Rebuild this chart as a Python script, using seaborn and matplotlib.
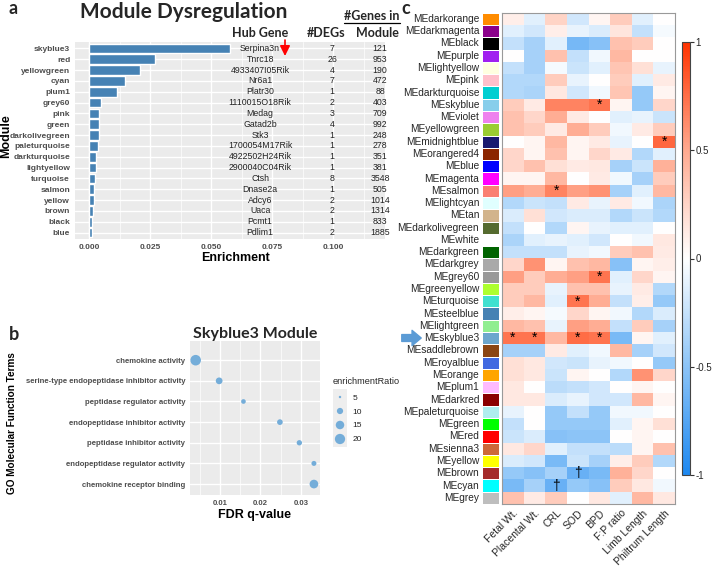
import numpy as np
import pandas as pd
import matplotlib
matplotlib.use('Agg')
import matplotlib.pyplot as plt
import seaborn as sns
from matplotlib.colors import LinearSegmentedColormap, ListedColormap
from matplotlib.lines import Line2D

# ---- Panel a: module enrichment + table ----
modules_a = ['skyblue3', 'red', 'yellowgreen', 'cyan', 'plum1', 'grey60', 'pink', 'green',
             'darkolivegreen', 'paleturquoise', 'darkturquoise', 'lightyellow', 'turquoise',
             'salmon', 'yellow', 'brown', 'black', 'blue']
enrichment = [0.0578, 0.0270, 0.0209, 0.0148, 0.0113, 0.0049, 0.0042, 0.0041, 0.0041,
              0.0036, 0.0029, 0.0027, 0.0025, 0.0020, 0.0020, 0.0016, 0.0012, 0.0011]
hub_genes = ['Serpina3n', 'Tnrc18', '4933407I05Rik', 'Nr6a1', 'Platr30', '1110015O18Rik',
             'Medag', 'Gatad2b', 'Stk3', '1700054M17Rik', '4922502H24Rik', '2900040C04Rik',
             'Ctsh', 'Dnase2a', 'Adcy6', 'Uaca', 'Pcmt1', 'Pdlim1']
n_degs = [7, 26, 4, 7, 1, 2, 3, 4, 1, 1, 1, 1, 8, 1, 2, 2, 1, 2]
n_genes = [121, 953, 190, 472, 88, 403, 709, 992, 248, 278, 351, 381, 3548, 505, 1014,
           1314, 833, 1885]

# ---- Panel b: GO terms for skyblue3 ----
go_terms = ['chemokine activity', 'serine-type endopeptidase inhibitor activity',
            'peptidase regulator activity', 'endopeptidase inhibitor activity',
            'peptidase inhibitor activity', 'endopeptidase regulator activity',
            'chemokine receptor binding']
fdr_q = [0.0040, 0.0098, 0.0158, 0.0248, 0.0296, 0.0332, 0.0332]
enrich_ratio = [21, 11, 7.4, 9, 8.4, 7.9, 15.5]
legend_ratios = [5, 10, 15, 20]

# ---- Panel c: module-trait correlations ----
me_modules = ['darkorange', 'darkmagenta', 'black', 'purple', 'lightyellow', 'pink',
              'darkturquoise', 'skyblue', 'violet', 'yellowgreen', 'midnightblue',
              'orangered4', 'blue', 'magenta', 'salmon', 'lightcyan', 'tan',
              'darkolivegreen', 'white', 'darkgreen', 'darkgrey', 'grey60', 'greenyellow',
              'turquoise', 'steelblue', 'lightgreen', 'skyblue3', 'saddlebrown',
              'royalblue', 'orange', 'plum1', 'darkred', 'paleturquoise', 'green', 'red',
              'sienna3', 'yellow', 'brown', 'cyan', 'grey']
traits = ['Fetal Wt.', 'Placental Wt.', 'CRL', 'SOD', 'BPD', 'F:P ratio', 'Limb Length',
          'Philtrum Length']
cor_values = [
    [0.10, -0.13, 0.25, -0.20, 0.06, 0.30, -0.13, 0.00],
    [-0.13, -0.20, 0.10, -0.10, -0.16, 0.15, -0.26, -0.04],
    [-0.26, -0.39, -0.13, -0.60, -0.52, 0.36, 0.30, 0.00],
    [0.00, -0.39, 0.36, -0.26, -0.06, 0.42, 0.00, 0.00],
    [-0.26, -0.39, -0.04, -0.23, -0.13, 0.34, 0.18, -0.10],
    [-0.33, -0.33, 0.30, -0.10, 0.00, 0.30, -0.13, 0.12],
    [-0.33, -0.36, 0.14, -0.20, -0.06, 0.34, -0.46, 0.06],
    [0.30, 0.12, 0.66, 0.66, 0.72, 0.06, -0.46, 0.24],
    [0.36, 0.24, 0.48, 0.12, 0.00, -0.13, -0.10, -0.23],
    [0.36, 0.30, 0.12, 0.48, 0.30, -0.06, 0.12, 0.30],
    [0.00, 0.06, 0.42, 0.06, 0.12, -0.10, 0.00, 0.78],
    [0.24, 0.06, 0.36, 0.06, 0.24, 0.12, -0.33, -0.13],
    [0.24, 0.36, 0.18, 0.12, 0.14, -0.39, -0.23, 0.46],
    [0.06, 0.06, 0.42, 0.00, 0.12, -0.06, -0.39, 0.30],
    [0.54, 0.48, 0.66, 0.54, 0.60, -0.39, -0.13, 0.42],
    [-0.33, -0.23, -0.26, 0.12, -0.10, 0.12, -0.06, -0.36],
    [-0.16, 0.18, -0.20, -0.16, -0.16, -0.33, -0.23, -0.33],
    [-0.26, 0.00, -0.33, 0.06, -0.10, -0.13, -0.13, 0.00],
    [-0.36, -0.13, -0.10, -0.13, -0.20, 0.00, -0.06, 0.14],
    [-0.26, -0.26, -0.26, -0.10, -0.06, 0.30, 0.36, 0.12],
    [0.24, 0.60, 0.06, 0.36, 0.42, -0.52, 0.06, 0.10],
    [0.54, 0.30, 0.48, 0.54, 0.72, -0.13, 0.24, 0.06],
    [0.30, 0.30, -0.10, 0.36, 0.36, -0.10, 0.12, -0.33],
    [0.30, 0.42, -0.13, 0.72, 0.48, -0.26, 0.10, -0.46],
    [0.10, 0.06, -0.04, 0.24, 0.06, -0.06, -0.33, -0.16],
    [0.42, 0.36, -0.10, 0.54, 0.48, -0.26, 0.30, -0.39],
    [0.72, 0.72, 0.42, 0.75, 0.72, -0.58, 0.06, -0.13],
    [-0.39, -0.39, 0.12, -0.13, -0.06, 0.42, -0.39, -0.20],
    [0.18, 0.14, -0.20, -0.23, -0.10, -0.06, 0.00, -0.46],
    [0.18, 0.14, -0.23, 0.06, 0.00, -0.33, 0.60, 0.24],
    [0.14, 0.00, -0.29, -0.26, -0.20, 0.00, 0.06, 0.00],
    [0.14, 0.14, -0.16, -0.10, -0.20, -0.20, 0.42, 0.06],
    [-0.10, 0.00, -0.46, -0.26, -0.46, -0.06, -0.06, 0.00],
    [-0.26, 0.00, -0.46, -0.46, -0.46, -0.13, 0.06, 0.18],
    [-0.23, -0.16, -0.52, -0.50, -0.50, 0.00, 0.06, 0.00],
    [0.14, 0.24, -0.13, -0.26, -0.26, -0.29, 0.06, 0.36],
    [-0.16, -0.20, -0.58, -0.23, -0.39, 0.10, 0.30, -0.33],
    [-0.46, -0.52, -0.39, -0.66, -0.58, 0.46, 0.24, 0.00],
    [-0.58, -0.39, -0.66, -0.46, -0.52, 0.30, 0.14, -0.06],
    [0.36, 0.12, 0.30, 0.00, 0.14, -0.13, 0.42, 0.14],
]
# (module, trait) -> significance mark
sig_marks = {('skyblue', 'BPD'): '*', ('midnightblue', 'Philtrum Length'): '*',
             ('salmon', 'CRL'): '*', ('grey60', 'BPD'): '*', ('turquoise', 'SOD'): '*',
             ('skyblue3', 'Fetal Wt.'): '*', ('skyblue3', 'Placental Wt.'): '*',
             ('skyblue3', 'SOD'): '*', ('skyblue3', 'BPD'): '*',
             ('brown', 'SOD'): '\u2020', ('cyan', 'CRL'): '\u2020'}

# R colour names used by WGCNA
module_hex = {'darkorange': '#FF8C00', 'darkmagenta': '#8B008B', 'black': '#000000',
              'purple': '#A020F0', 'lightyellow': '#FFFFE0', 'pink': '#FFC0CB',
              'darkturquoise': '#00CED1', 'skyblue': '#87CEEB', 'violet': '#EE82EE',
              'yellowgreen': '#9ACD32', 'midnightblue': '#191970', 'orangered4': '#8B2500',
              'blue': '#0000FF', 'magenta': '#FF00FF', 'salmon': '#FA8072',
              'lightcyan': '#E0FFFF', 'tan': '#D2B48C', 'darkolivegreen': '#556B2F',
              'white': '#FFFFFF', 'darkgreen': '#006400', 'darkgrey': '#A9A9A9',
              'grey60': '#999999', 'greenyellow': '#ADFF2F', 'turquoise': '#40E0D0',
              'steelblue': '#4682B4', 'lightgreen': '#90EE90', 'skyblue3': '#6CA6CD',
              'saddlebrown': '#8B4513', 'royalblue': '#4169E1', 'orange': '#FFA500',
              'plum1': '#FFBBFF', 'darkred': '#8B0000', 'paleturquoise': '#AFEEEE',
              'green': '#00FF00', 'red': '#FF0000', 'sienna3': '#CD6839',
              'yellow': '#FFFF00', 'brown': '#A52A2A', 'cyan': '#00FFFF', 'grey': '#BEBEBE'}

W, H = 714, 571
GG_BG = '#EBEBEB'
GG_TXT = '#4D4D4D'


def fx(px):
    return px / W


def fy(py):
    return 1 - py / H


def style_gg(ax, labelsize=6):
    ax.set_facecolor(GG_BG)
    for s in ax.spines.values():
        s.set_visible(False)
    ax.set_axisbelow(True)
    ax.grid(True, which='major', color='white', linewidth=1.0)
    ax.grid(True, which='minor', axis='x', color='white', linewidth=0.5)
    ax.tick_params(which='major', length=2, width=0.6, color='#333333',
                   labelsize=labelsize, labelcolor=GG_TXT, pad=1.5)
    ax.tick_params(which='minor', length=0)
    for lab in ax.get_xticklabels() + ax.get_yticklabels():
        lab.set_fontweight('bold')


sns.set_style('white')
plt.rcParams['font.family'] = ['Liberation Sans', 'DejaVu Sans']

fig = plt.figure(figsize=(W / 100, H / 100), dpi=100)

# ================= panel a =================
ax_a = fig.add_axes([fx(75), fy(239), (385 - 75) / W, (239 - 42) / H])
sns.barplot(x=enrichment, y=modules_a, orient='h', color='#4682B4', saturation=1,
            width=0.9, ax=ax_a)
ax_a.set_xlim(-0.00574, 0.1213)
ax_a.set_ylim(17.6, -0.6)
ax_a.set_xticks([0, 0.025, 0.05, 0.075, 0.1])
ax_a.set_xticklabels(['0.000', '0.025', '0.050', '0.075', '0.100'])
ax_a.set_xticks([0.0125, 0.0375, 0.0625, 0.0875, 0.1125], minor=True)
style_gg(ax_a)
ax_a.set_xlabel('Enrichment', fontsize=9, fontweight='bold', color='black')
ax_a.xaxis.set_label_coords((235 - 75) / 310, (239 - 252) / 197)
ax_a.set_ylabel('Module', fontsize=9, fontweight='bold', color='black')
ax_a.yaxis.set_label_coords((12 - 75) / 310, 0.52)

for i in range(len(modules_a)):
    ax_a.text(0.0701, i, hub_genes[i], ha='center', va='center', fontsize=6.3, color='#222222')
    ax_a.text(0.0996, i, str(n_degs[i]), ha='center', va='center', fontsize=6.3, color='#222222')
    ax_a.text(0.1193, i, str(n_genes[i]), ha='center', va='center', fontsize=6.3, color='#222222')

ax_a.annotate('', xy=(285, H - 56), xytext=(285, H - 40), xycoords='figure pixels',
              textcoords='figure pixels',
              arrowprops=dict(arrowstyle='-|>,head_length=0.5,head_width=0.25',
                              color='red', lw=1.2, mutation_scale=12, shrinkA=0, shrinkB=0))

head_kw = dict(fontsize=9, fontweight='bold', family='Lato', ha='center', va='center')
fig.text(fx(260), fy(33), 'Hub Gene', **head_kw)
fig.text(fx(326), fy(33), '#DEGs', **head_kw)
fig.text(fx(372), fy(16), '#Genes in', **head_kw)
fig.text(fx(377), fy(33), 'Module', **head_kw)
fig.add_artist(Line2D([fx(344), fx(400)], [fy(23), fy(23)], color='black', lw=0.9))

fig.text(fx(184), fy(18), 'Module Dysregulation', fontsize=15, fontweight='bold',
         family='Lato', ha='center', va='baseline')

# ================= panel b =================
ax_b = fig.add_axes([fx(190), fy(495), 130 / W, 154 / H])
sns.scatterplot(x=fdr_q, y=go_terms, size=enrich_ratio, sizes=(3, 58), size_norm=(5, 21),
                color='#74ADD9', edgecolor='none', legend=False, ax=ax_b)
ax_b.set_xlim(0.0026, 0.0347)
ax_b.set_ylim(6.53, -0.93)
ax_b.set_xticks([0.01, 0.02, 0.03])
ax_b.set_xticklabels(['0.01', '0.02', '0.03'])
ax_b.set_xticks([0.005, 0.015, 0.025], minor=True)
style_gg(ax_b, labelsize=5.6)
ax_b.set_xlabel('FDR q-value', fontsize=9, fontweight='bold', color='black')
ax_b.xaxis.set_label_coords((254.5 - 190) / 130, (495 - 509) / 154)
ax_b.set_ylabel('GO Molecular Function Terms', fontsize=7.2, fontweight='bold', color='black')
ax_b.yaxis.set_label_coords((17 - 190) / 130, 0.464)
fig.text(fx(255), fy(338), 'Skyblue3 Module', fontsize=11.5, fontweight='bold',
         family='Lato', ha='center', va='baseline')

# size legend
ax_leg = fig.add_axes([fx(333), fy(447), 14 / W, 58 / H])
sns.scatterplot(x=[0] * len(legend_ratios), y=legend_ratios, size=legend_ratios,
                sizes=(3, 58), size_norm=(5, 21), color='#74ADD9', edgecolor='none',
                legend=False, ax=ax_leg)
ax_leg.set_facecolor('#EEEEEE')
ax_leg.set_xlim(-1, 1)
ax_leg.set_ylim(22.86, 2.14)
ax_leg.set_xticks([])
ax_leg.yaxis.tick_right()
ax_leg.set_yticks(legend_ratios)
ax_leg.set_yticklabels([str(v) for v in legend_ratios])
ax_leg.tick_params(axis='y', length=0, pad=4, labelsize=6, labelcolor='#222222')
for s in ax_leg.spines.values():
    s.set_visible(False)
ax_leg.set_xlabel('')
ax_leg.set_ylabel('')
fig.text(fx(333), fy(382), 'enrichmentRatio', fontsize=6.6, ha='left', va='center')

# ================= panel c =================
me_labels = ['ME' + m for m in me_modules]
df_cor = pd.DataFrame(cor_values, index=me_modules, columns=traits)
annot = pd.DataFrame('', index=me_modules, columns=traits)
for (mod, tr), mark in sig_marks.items():
    annot.loc[mod, tr] = mark

cmap = LinearSegmentedColormap.from_list(
    'cor', [(0, '#1E88F0'), (0.25, '#8CC4F7'), (0.5, '#FFFFFF'), (0.75, '#FFAA90'),
            (1, '#FF3300')])

ax_strip = fig.add_axes([fx(482), fy(504), 17 / W, 491.3 / H])
ax_c = fig.add_axes([fx(502), fy(504), 173 / W, 491.3 / H])
cax = fig.add_axes([fx(682), fy(475), 8 / W, 433 / H])

sns.heatmap(np.arange(len(me_modules)).reshape(-1, 1), ax=ax_strip,
            cmap=ListedColormap([module_hex[m] for m in me_modules]), cbar=False,
            linewidths=0.4, linecolor='white', xticklabels=False, yticklabels=me_labels)
ax_strip.tick_params(axis='y', length=0, pad=2, labelsize=7.3, labelrotation=0)

sns.heatmap(df_cor, ax=ax_c, cmap=cmap, vmin=-1, vmax=1, cbar_ax=cax,
            cbar_kws={'ticks': [-1, -0.5, 0, 0.5, 1]},
            annot=annot.values, fmt='', annot_kws={'fontsize': 10, 'color': 'black'},
            xticklabels=traits, yticklabels=False)
for s in ax_c.spines.values():
    s.set_visible(True)
    s.set_color('#999999')
    s.set_linewidth(0.8)
ax_c.set_xticklabels(traits, rotation=45, ha='right', rotation_mode='anchor', fontsize=7.5)
ax_c.tick_params(axis='x', length=0, pad=3)
ax_c.set_xlabel('')
ax_c.set_ylabel('')

cax.set_yticklabels(['-1', '-0.5', '0', '0.5', '1'])
cax.tick_params(length=3, width=0.8, color='#333333', labelsize=7, pad=1)
cbar = ax_c.collections[0].colorbar
cbar.outline.set_edgecolor('#444444')
cbar.outline.set_linewidth(0.8)

ax_c.annotate('', xy=(424, H - 338), xytext=(399, H - 338), xycoords='figure pixels',
              textcoords='figure pixels',
              arrowprops=dict(arrowstyle='simple,head_length=0.6,head_width=1.0,tail_width=0.45',
                              color='#5B9BD5', mutation_scale=11))

# panel letters
for letter, (px, py) in {'a': (13, 0), 'b': (14, 326), 'c': (406, 0)}.items():
    fig.text(fx(px), fy(py), letter, fontsize=13, fontweight='bold', family='Lato',
             ha='center', va='top')

fig.savefig('out.png', dpi=100)
